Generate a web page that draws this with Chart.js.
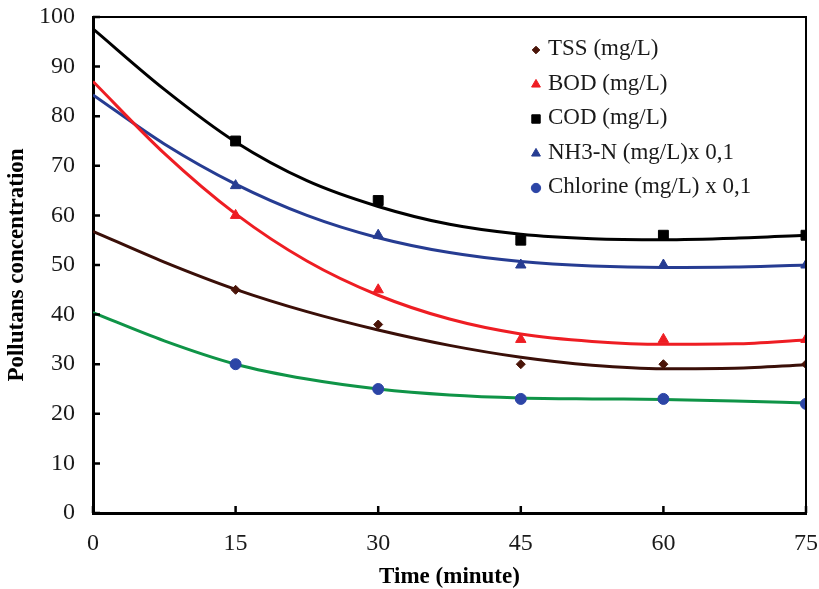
<!DOCTYPE html>
<html>
<head>
<meta charset="utf-8">
<script src="https://cdn.jsdelivr.net/npm/chart.js@4.4.1/dist/chart.umd.min.js"></script>
<style>
  html, body { margin: 0; padding: 0; background: #fff; }
  canvas { display: block; }
</style>
</head>
<body>
<canvas id="pollutantChart" width="819" height="589" style="width:819px;height:589px"></canvas>
<script>
// measured points (minutes)
const times = [15, 30, 45, 60, 75];
const tss = [45, 38, 30, 30, 30];
const bod = [60, 45, 35, 35, 35];
const cod = [75, 63, 55, 56, 56];
const nh3 = [66, 56, 50, 50, 50];
const chlorine = [30, 25, 23, 23, 22];

// trend lines
const trendTimes = [0, 7.5, 15, 22.5, 30, 37.5, 45, 52.5, 60, 67.5, 75];
const tssTrend = [56.8, 50.6, 45.1, 40.6, 36.9, 33.8, 31.4, 29.8, 29.1, 29.2, 29.9];
const bodTrend = [87.0, 72.5, 60.3, 50.8, 43.9, 39.1, 36.1, 34.6, 34.0, 34.1, 34.9];
const codTrend = [97.6, 85.4, 74.8, 67.0, 61.8, 58.2, 56.2, 55.3, 55.1, 55.4, 56.0];
const nh3Trend = [84.3, 74.4, 66.3, 60.0, 55.5, 52.5, 50.7, 49.8, 49.5, 49.6, 50.0];
const chlorineTrend = [40.4, 34.7, 30.0, 27.0, 25.0, 23.8, 23.2, 23.0, 22.9, 22.6, 22.2];

const xTicks = [0, 15, 30, 45, 60, 75];

const FONT = "'Liberation Serif', 'Times New Roman', serif";

function toPoints(xs, ys) {
  return xs.map((x, i) => ({ x: x, y: ys[i] }));
}

function markerSet(label, data, color, style, radius) {
  return {
    label: label,
    data: toPoints(times, data),
    showLine: false,
    pointStyle: style,
    pointRadius: radius,
    pointBackgroundColor: color,
    pointBorderColor: color,
    pointBorderWidth: 1,
    order: 0,
    isMarker: true
  };
}

function trendSet(data, color) {
  return {
    data: toPoints(trendTimes, data),
    borderColor: color,
    borderWidth: 3,
    pointRadius: 0,
    cubicInterpolationMode: 'monotone',
    fill: false,
    order: 1
  };
}

const datasets = [
  markerSet('TSS (mg/L)', tss, '#4a1408', 'rectRot', 4.5),
  markerSet('BOD (mg/L)', bod, '#ee1d23', 'triangle', 6),
  markerSet('COD (mg/L)', cod, '#000000', 'rect', 7),
  markerSet('NH3-N (mg/L)x 0,1', nh3, '#263c92', 'triangle', 6),
  markerSet('Chlorine (mg/L) x 0,1', chlorine, '#2c45a6', 'circle', 5.5),
  trendSet(tssTrend, '#3a0f08'),
  trendSet(bodTrend, '#ee1d23'),
  trendSet(codTrend, '#000000'),
  trendSet(nh3Trend, '#263c92'),
  trendSet(chlorineTrend, '#0f9447')
];

// frame + inward tick marks
const framePlugin = {
  id: 'frame',
  afterDraw(chart) {
    const ctx = chart.ctx;
    const a = chart.chartArea;
    const xs = chart.scales.x;
    const ys = chart.scales.y;
    ctx.save();
    ctx.strokeStyle = '#000';
    ctx.lineWidth = 2;
    ctx.beginPath();
    ctx.moveTo(a.left, a.top);
    ctx.lineTo(a.right, a.top);
    ctx.lineTo(a.right, a.bottom);
    ctx.stroke();
    ctx.lineWidth = 2.5;
    ctx.beginPath();
    xTicks.forEach((v) => {
      const px = xs.getPixelForValue(v);
      ctx.moveTo(px, a.bottom);
      ctx.lineTo(px, a.bottom - 7);
    });
    ys.ticks.forEach((t) => {
      const py = ys.getPixelForValue(t.value);
      ctx.moveTo(a.left, py);
      ctx.lineTo(a.left + 7, py);
    });
    ctx.stroke();
    ctx.restore();
  }
};

// legend inside the plot, upper right
const legendPlugin = {
  id: 'insideLegend',
  afterDraw(chart) {
    const ctx = chart.ctx;
    const a = chart.chartArea;
    const x = a.right - 270;
    let y = a.top + 32;
    ctx.save();
    ctx.font = '23px ' + FONT;
    ctx.textBaseline = 'middle';
    ctx.textAlign = 'left';
    chart.data.datasets.filter((d) => d.isMarker).forEach((d) => {
      ctx.fillStyle = d.pointBackgroundColor;
      ctx.strokeStyle = d.pointBorderColor;
      ctx.lineWidth = 1;
      Chart.helpers.drawPoint(ctx, {
        pointStyle: d.pointStyle,
        radius: d.pointRadius * 0.85,
        rotation: 0,
        borderWidth: 1
      }, x, y + 1);
      ctx.fillStyle = '#1a1a1a';
      ctx.fillText(d.label, x + 12, y);
      y += 34.5;
    });
    ctx.restore();
  }
};

const config = {
  type: 'line',
  data: { datasets: datasets },
  options: {
    responsive: false,
    animation: false,
    layout: { padding: { top: 17, right: 13, left: 0, bottom: 0 } },
    plugins: {
      legend: { display: false },
      tooltip: { enabled: false }
    },
    scales: {
      x: {
        type: 'linear',
        min: 0,
        max: 75,
        afterBuildTicks(scale) {
          scale.ticks = xTicks.map((v) => ({ value: v }));
        },
        afterFit(scale) {
          scale.height = 76;
          scale.paddingLeft = 0;
          scale.paddingRight = 0;
        },
        grid: { display: false, drawTicks: false },
        border: { color: '#000', width: 3 },
        ticks: {
          color: '#1a1a1a',
          font: { family: FONT, size: 24 },
          padding: 16,
          maxRotation: 0
        },
        title: {
          display: true,
          text: 'Time (minute)',
          color: '#000',
          font: { family: FONT, size: 23, weight: 'bold', lineHeight: 1 },
          padding: { top: 0, bottom: 0 }
        }
      },
      y: {
        min: 0,
        max: 100,
        afterFit(scale) {
          scale.width = 93;
          scale.paddingTop = 0;
          scale.paddingBottom = 0;
        },
        grid: { display: false, drawTicks: false },
        border: { color: '#000', width: 3 },
        ticks: {
          stepSize: 10,
          color: '#1a1a1a',
          font: { family: FONT, size: 24 },
          padding: 18
        },
        title: {
          display: true,
          text: 'Pollutans concentration',
          color: '#000',
          font: { family: FONT, size: 23, weight: 'bold', lineHeight: 1.2 },
          padding: { top: 3, bottom: 0 }
        }
      }
    }
  },
  plugins: [framePlugin, legendPlugin]
};

const ctx = document.getElementById('pollutantChart').getContext('2d');
const pollutantChart = new Chart(ctx, config);
</script>
</body>
</html>
